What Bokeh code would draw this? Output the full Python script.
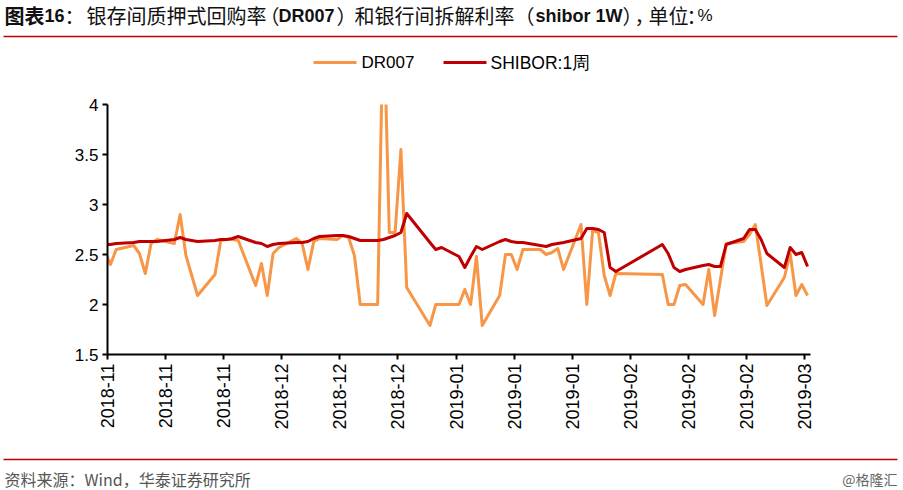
import pandas as pd
from math import pi
from bokeh.plotting import figure
from bokeh.models import Range1d, FixedTicker, ColumnDataSource
from bokeh.core.properties import value
from bokeh.embed import file_html
from bokeh.resources import INLINE

# ---------------- data ----------------
DATES = [
    "2018-11-07", "2018-11-08", "2018-11-09",
    "2018-11-12", "2018-11-13", "2018-11-14", "2018-11-15", "2018-11-16",
    "2018-11-19", "2018-11-20", "2018-11-21", "2018-11-22", "2018-11-23",
    "2018-11-26", "2018-11-27", "2018-11-28", "2018-11-29", "2018-11-30",
    "2018-12-03", "2018-12-04", "2018-12-05", "2018-12-06", "2018-12-07",
    "2018-12-10", "2018-12-11", "2018-12-12", "2018-12-13", "2018-12-14",
    "2018-12-17", "2018-12-18", "2018-12-19", "2018-12-20", "2018-12-21",
    "2018-12-24", "2018-12-25", "2018-12-26", "2018-12-27", "2018-12-28", "2018-12-29",
    "2019-01-02", "2019-01-03", "2019-01-04",
    "2019-01-07", "2019-01-08", "2019-01-09", "2019-01-10", "2019-01-11",
    "2019-01-14", "2019-01-15", "2019-01-16", "2019-01-17", "2019-01-18",
    "2019-01-21", "2019-01-22", "2019-01-23", "2019-01-24", "2019-01-25",
    "2019-01-28", "2019-01-29", "2019-01-30", "2019-01-31", "2019-02-01",
    "2019-02-02", "2019-02-03",
    "2019-02-11", "2019-02-12", "2019-02-13", "2019-02-14", "2019-02-15",
    "2019-02-18", "2019-02-19", "2019-02-20", "2019-02-21", "2019-02-22",
    "2019-02-25", "2019-02-26", "2019-02-27", "2019-02-28", "2019-03-01",
    "2019-03-04", "2019-03-05", "2019-03-06", "2019-03-07", "2019-03-08",
]

DR007 = [
    2.54, 2.40, 2.55,
    2.59, 2.51, 2.31, 2.61, 2.65,
    2.61, 2.90, 2.49, 2.29, 2.09,
    2.30, 2.64, 2.65, 2.65, 2.64,
    2.19, 2.41, 2.09, 2.51, 2.57,
    2.66, 2.61, 2.35, 2.63, 2.66,
    2.65, 2.69, 2.67, 2.49, 2.00,
    2.00, 5.00, 2.72, 2.72, 3.55, 2.17,
    1.79, 2.00, 2.00,
    2.00, 2.15, 2.00, 2.48, 1.79,
    2.09, 2.50, 2.50, 2.35, 2.55,
    2.55, 2.50, 2.52, 2.56, 2.35,
    2.80, 2.00, 2.74, 2.72, 2.29,
    2.09, 2.31,
    2.30, 2.00, 2.00, 2.19, 2.20,
    2.00, 2.35, 1.89, 2.25, 2.61,
    2.63, 2.70, 2.80, 2.40, 1.99,
    2.27, 2.51, 2.09, 2.20, 2.09,
]

SHIBOR_1W = [
    2.60, 2.60, 2.61,
    2.62, 2.63, 2.63, 2.63, 2.63,
    2.65, 2.67, 2.65, 2.64, 2.63,
    2.64, 2.65, 2.65, 2.66, 2.68,
    2.62, 2.61, 2.58, 2.60, 2.61,
    2.62, 2.62, 2.63, 2.66, 2.68,
    2.69, 2.69, 2.68, 2.66, 2.64,
    2.64, 2.65, 2.67, 2.69, 2.72, 2.91,
    2.62, 2.55, 2.57,
    2.48, 2.37, 2.48, 2.58, 2.55,
    2.63, 2.65, 2.63, 2.62, 2.62,
    2.59, 2.58, 2.60, 2.61, 2.62,
    2.66, 2.76, 2.76, 2.75, 2.72,
    2.37, 2.33,
    2.60, 2.51, 2.37, 2.33, 2.35,
    2.39, 2.40, 2.38, 2.38, 2.60,
    2.66, 2.75, 2.75, 2.65, 2.51,
    2.37, 2.57, 2.50, 2.52, 2.38,
]

SERIES_NAMES = ["DR007", "SHIBOR:1周"]

Y_TICKS = [1.5, 2, 2.5, 3, 3.5, 4]
Y_TICK_LABELS = ["1.5", "2", "2.5", "3", "3.5", "4"]

X_TICK_DATES = [
    "2018-11-08", "2018-11-18", "2018-11-28",
    "2018-12-08", "2018-12-18", "2018-12-28",
    "2019-01-07", "2019-01-17", "2019-01-27",
    "2019-02-06", "2019-02-16", "2019-02-26",
    "2019-03-08",
]
X_TICK_LABELS = [
    "2018-11", "2018-11", "2018-11",
    "2018-12", "2018-12", "2018-12",
    "2019-01", "2019-01", "2019-01",
    "2019-02", "2019-02", "2019-02",
    "2019-03",
]

TITLE_RUNS = ["图表", "16", "：", "银存间质押式回购率", "（", "DR007", "）",
              "和银行间拆解利率", "（", "shibor 1W", "）", "，", "单位", "：", "%"]
SOURCE_NOTE = "资料来源：Wind，华泰证券研究所"
WATERMARK = "@格隆汇"

# ---------------- styling / geometry ----------------
ORANGE = "#F79646"
DARKRED = "#C00000"
CJK = "Noto Sans CJK SC"
LATIN = "Liberation Sans"

W = 903
HEADER_H = 88
FOOTER_H = 46
MAIN_H = 490 - HEADER_H - FOOTER_H
FRAME_L, FRAME_R, FRAME_T, FRAME_B = 107, 810, 104, 354   # page pixels


def blank_fig(h):
    f = figure(width=W, height=h, x_range=Range1d(0, W), y_range=Range1d(h, 0),
               toolbar_location=None, output_backend="svg",
               x_axis_location=None, y_axis_location=None, min_border=0)
    f.outline_line_color = None
    f.xgrid.visible = False
    f.ygrid.visible = False
    return f


# ---------------- header: title, rule, legend ----------------
hdr = blank_fig(HEADER_H)
title_pos = [4, 44, 64, 86, 259, 278, 336, 354, 514, 535, 622, 634, 648, 686, 697]
title_font = [CJK, LATIN, CJK, CJK, CJK, LATIN, CJK, CJK, CJK, LATIN, CJK, CJK, CJK, CJK, LATIN]
title_style = ["bold", "bold", "normal", "normal", "normal", "bold", "normal",
               "normal", "normal", "bold", "normal", "normal", "normal", "normal", "normal"]
title_size = ["20px", "18px", "20px", "20px", "20px", "18px", "20px",
              "20px", "20px", "18px", "20px", "20px", "20px", "20px", "17px"]
for txt, xp, fnt, sty, sz in zip(TITLE_RUNS, title_pos, title_font, title_style, title_size):
    hdr.text(x=[xp], y=[15], text=[txt], text_font=value(fnt),
             text_font_style=sty, text_font_size=sz,
             text_color="#111111", text_baseline="middle", text_align="left")
hdr.line(x=[3, 897], y=[36, 36], line_color=DARKRED, line_width=1.5)

LEG_Y = 62
hdr.line(x=[313, 356], y=[LEG_Y, LEG_Y], line_color=ORANGE, line_width=3)
hdr.text(x=[361], y=[LEG_Y], text=[SERIES_NAMES[0]], text_font=value(LATIN),
         text_font_size="17px", text_color="black", text_baseline="middle")
hdr.line(x=[443, 486], y=[LEG_Y, LEG_Y], line_color=DARKRED, line_width=3)
hdr.text(x=[490], y=[LEG_Y], text=[SERIES_NAMES[1]], text_font=value(LATIN),
         text_font_size="17.5px", text_color="black", text_baseline="middle")

# ---------------- main chart ----------------
epoch = pd.Timestamp("1970-01-01")


def to_ms(ts):
    return (pd.Timestamp(ts) - epoch).total_seconds() * 1000.0


t = pd.to_datetime(DATES) + pd.Timedelta(hours=12)
src = ColumnDataSource(dict(t=t, dr=DR007, sh=SHIBOR_1W))

X0_MS = to_ms(X_TICK_DATES[0])
X1_MS = to_ms(pd.Timestamp(X_TICK_DATES[-1]) + pd.Timedelta(days=1))

p = figure(width=W, height=MAIN_H, x_axis_type="datetime",
           x_range=Range1d(X0_MS, X1_MS), y_range=Range1d(Y_TICKS[0], Y_TICKS[-1]),
           toolbar_location=None, output_backend="svg",
           min_border_left=FRAME_L, min_border_right=W - FRAME_R,
           min_border_top=FRAME_T - HEADER_H,
           min_border_bottom=HEADER_H + MAIN_H - FRAME_B)
p.outline_line_color = None
p.xgrid.visible = False
p.ygrid.visible = False

p.line("t", "dr", source=src, line_color=ORANGE, line_width=3, line_join="round")
p.line("t", "sh", source=src, line_color=DARKRED, line_width=3, line_join="round")

x_tick_ms = [int(to_ms(d)) for d in X_TICK_DATES]
p.xaxis.ticker = FixedTicker(ticks=x_tick_ms)
p.xaxis.major_label_overrides = {m: lab for m, lab in zip(x_tick_ms, X_TICK_LABELS)}
p.xaxis.major_label_orientation = pi / 2
p.yaxis.ticker = FixedTicker(ticks=Y_TICKS)
p.yaxis.major_label_overrides = {v: lab for v, lab in zip(Y_TICKS, Y_TICK_LABELS)}

for ax in p.axis:
    ax.axis_line_color = "black"
    ax.axis_line_width = 2
    ax.major_tick_line_color = "black"
    ax.major_tick_line_width = 2
    ax.major_tick_in = 0
    ax.major_tick_out = 5
    ax.minor_tick_in = 0
    ax.minor_tick_out = 0
    ax.major_label_text_font = LATIN
    ax.major_label_text_color = "black"
    ax.major_label_standoff = 4
p.yaxis.major_label_text_font_size = "17px"
p.xaxis.major_label_text_font_size = "18px"

# ---------------- footer ----------------
ftr = blank_fig(FOOTER_H)
ftr.line(x=[3, 897], y=[459 - 444, 459 - 444], line_color=DARKRED, line_width=1.5)
ftr.text(x=[4], y=[478 - 444], text=[SOURCE_NOTE], text_font=value(CJK),
         text_font_size="16px", text_color="#555555", text_baseline="middle")
ftr.text(x=[897], y=[478 - 444], text=[WATERMARK], text_font=value(CJK),
         text_font_size="14px", text_color="#666666", text_baseline="middle",
         text_align="right")

open("out.html", "w").write(file_html([hdr, p, ftr], INLINE))
